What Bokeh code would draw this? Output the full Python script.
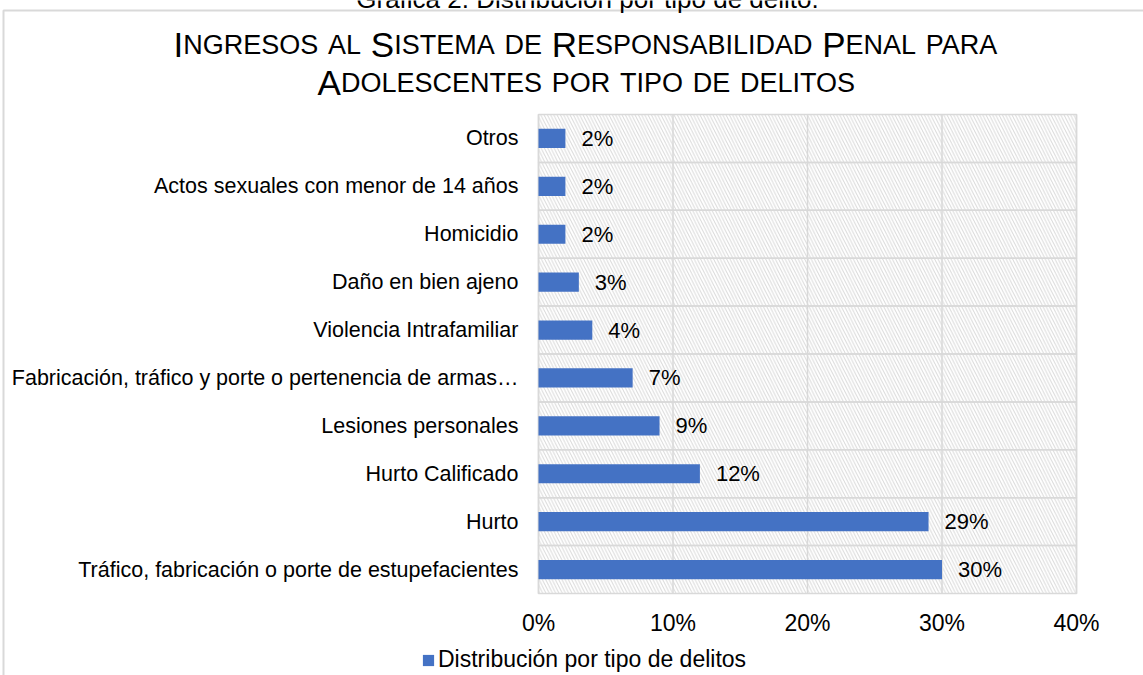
from bokeh.plotting import figure
from bokeh.models import (Range1d, FixedTicker, NumeralTickFormatter,
                          Legend, LegendItem, ColumnDataSource)
from bokeh.core.properties import value
from bokeh.embed import file_html
from bokeh.resources import INLINE

# ---------------- data ----------------
categories = [
    "Tráfico, fabricación o porte de estupefacientes",
    "Hurto",
    "Hurto Calificado",
    "Lesiones personales",
    "Fabricación, tráfico y porte o pertenencia de armas…",
    "Violencia Intrafamiliar",
    "Daño en bien ajeno",
    "Homicidio",
    "Actos sexuales con menor de 14 años",
    "Otros",
]
shares = [0.30, 0.29, 0.12, 0.09, 0.07, 0.04, 0.03, 0.02, 0.02, 0.02]
x_ticks = [0.0, 0.1, 0.2, 0.3, 0.4]
series_name = "Distribución por tipo de delitos"
title_lines = ["Ingresos al Sistema de Responsabilidad Penal para",
               "Adolescentes por tipo de delitos"]
caption = "Gráfica 2. Distribución por tipo de delito."

FONT = "Liberation Sans"
BLUE = "#4472C4"
GRID = "#d9d9d9"

# ---------------- layout (pixels) ----------------
W, H = 1143, 675
n = len(categories)
PX_L, PX_R, PY_T, PY_B = 538.0, 1076.0, 114.0, 593.0
BASE_FIX = 11  # alphabetic baseline correction of the text glyph
kx = (x_ticks[-1] - x_ticks[0]) / (PX_R - PX_L)
ky = n / (PY_B - PY_T)


def X(px):
    return x_ticks[0] + (px - PX_L) * kx


def Y(py):
    return (PY_B - py) * ky


p = figure(width=W, height=H, output_backend="svg", toolbar_location=None,
           x_range=Range1d(X(0), X(W)), y_range=Range1d(Y(H), Y(0)),
           min_border=0)
p.outline_line_color = None
p.background_fill_color = "white"
p.border_fill_color = "white"
p.grid.visible = False

rows = list(range(n))
centers = [i + 0.5 for i in rows]
src = ColumnDataSource(dict(
    cat=categories, share=shares, yc=centers,
    bottom=rows, top=[i + 1 for i in rows],
    lo=[x_ticks[0]] * n, hi=[x_ticks[-1]] * n,
    lbl=[f"{round(s * 100):.0f}%" for s in shares]))

# vertical gridlines
p.segment(x0=x_ticks, x1=x_ticks, y0=[0] * len(x_ticks), y1=[n] * len(x_ticks),
          line_color=GRID, line_width=1.5)

# hatched background rows with row borders
p.quad(left="lo", right="hi", bottom="bottom", top="top", source=src,
       fill_color=None, hatch_pattern="\\", hatch_color="#d9d9d9",
       hatch_scale=6.5, hatch_weight=1, line_color=GRID, line_width=1.5)

bars = p.hbar(y="yc", left=0, right="share", height=0.4, source=src,
              fill_color=BLUE, line_color=None)

p.text(x="share", y="yc", text="lbl", source=src, x_offset=16,
       text_baseline="middle", text_align="left",
       text_font=value(FONT), text_font_size="22px", text_color="black")

# axes, drawn at the plot area's edges
xa, ya = p.xaxis[0], p.yaxis[0]
xa.fixed_location = 0
ya.fixed_location = x_ticks[0]
xa.ticker = FixedTicker(ticks=x_ticks)
xa.formatter = NumeralTickFormatter(format="0%")
ya.ticker = FixedTicker(ticks=centers)
ya.major_label_overrides = {c: name for c, name in zip(centers, categories)}
for ax in (xa, ya):
    ax.axis_line_color = None
    ax.major_tick_line_color = None
    ax.minor_tick_line_color = None
    ax.major_label_text_font = FONT
    ax.major_label_text_color = "black"
xa.major_label_text_font_size = "23px"
xa.major_label_standoff = 10
ya.major_label_text_font_size = "21.5px"
ya.major_label_standoff = 14

# legend
legend = Legend(items=[LegendItem(label=series_name, renderers=[bars])],
                location=(421, 2), orientation="horizontal",
                glyph_width=14, glyph_height=14, label_standoff=3,
                label_text_font=FONT, label_text_font_size="23px",
                label_text_color="black", padding=0, margin=0,
                border_line_color=None, background_fill_color=None)
p.add_layout(legend, "center")

# outer chart border
p.line(x=[X(3), X(3), X(W + 10)], y=[Y(H + 10), Y(10), Y(10)],
       line_color=GRID, line_width=2)

# caption, cut off at the top of the page
p.text(x=[X(587)], y=[Y(9 - BASE_FIX)], text=[caption], text_align="center",
       text_baseline="alphabetic", text_font=value(FONT),
       text_font_size="26px", text_color="black")

# small-caps title built from Arial/Liberation metrics
AW = dict(A=667, B=667, C=722, D=722, E=667, F=611, G=778, H=722, I=278, J=500,
          K=667, L=556, M=833, N=722, O=778, P=667, Q=778, R=722, S=667, T=611,
          U=722, V=667, W=944, X=667, Y=667, Z=611)
SPACE = 278
BIG, SMALL = 35.0, 27.0
CENTER_X = 586
baselines = [55, 93]
tx, ty, tt, ts = [], [], [], []
for line, base in zip(title_lines, baselines):
    # runs: (text, size) with spaces kept as separate advance-only runs
    runs = []
    for ch in line:
        if ch == " ":
            runs.append([" ", BIG])
            continue
        size = SMALL if ch.islower() else BIG
        if runs and runs[-1][0] != " " and runs[-1][1] == size:
            runs[-1][0] += ch.upper()
        else:
            runs.append([ch.upper(), size])
    widths = [sum(SPACE if c == " " else AW.get(c, 600) for c in s) * sz / 1000
              for s, sz in runs]
    x = CENTER_X - sum(widths) / 2
    for (s, sz), w in zip(runs, widths):
        if s != " ":
            tx.append(X(x)); ty.append(Y(base - BASE_FIX)); tt.append(s)
            ts.append(f"{sz:g}px")
        x += w
p.text(x=tx, y=ty, text=tt, text_font_size=ts, text_align="left",
       text_baseline="alphabetic", text_font=value(FONT), text_color="black")

open("out.html", "w").write(file_html(p, INLINE))
